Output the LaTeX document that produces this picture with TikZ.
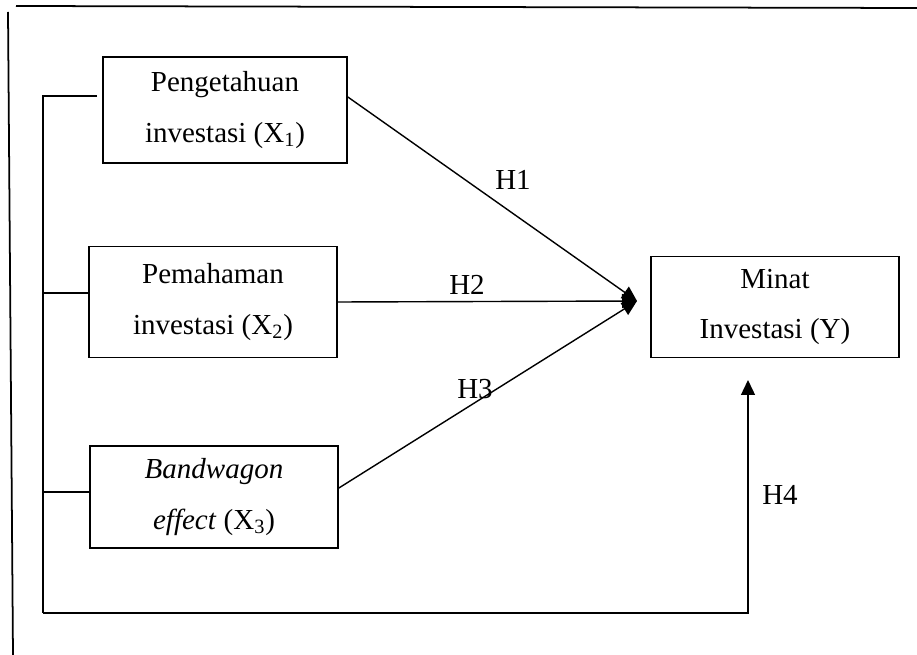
\documentclass[tikz,border=0pt]{standalone}
\usepackage{fontspec}
\setmainfont{Liberation Serif}
\usepackage{tikz}
\usetikzlibrary{arrows.meta}

\begin{document}
\begin{tikzpicture}[x=0.02cm, y=-0.02cm,
                    font=\fontsize{16.5}{28.5}\selectfont,
                    box/.style={draw, line width=1pt, align=center, inner sep=0},
                    link/.style={line width=0.8pt},
                    arr/.style={link, -{Triangle[length=0.3cm, width=0.28cm]}}]
    \useasboundingbox (0,0) rectangle (917,655);
    % frame lines
    \draw [line width=1pt] (16,6) -- (917,8);
    \draw [line width=1pt] (8,12) -- (13,655);

    \node (x1) [box, minimum width=4.88cm, minimum height=2.12cm] at (225,110) {Pengetahuan\\investasi (X\textsubscript{1})};
    \node (x2) [box, minimum width=4.96cm, minimum height=2.22cm] at (213,302) {Pemahaman\\investasi (X\textsubscript{2})};
    \node (x3) [box, minimum width=4.96cm, minimum height=2.04cm] at (214,497) {\textit{Bandwagon}\\\textit{effect} (X\textsubscript{3})};
    \node (y)  [box, minimum width=4.96cm, minimum height=2.02cm] at (775,307) {Minat\\Investasi (Y)};

    \coordinate (in) at (637,301);
    \coordinate (t1) at (97,96);
    \coordinate (bl) at (43,613);
    \coordinate (h4) at (748,380);

    % hypotheses
    \draw [arr] ([yshift=0.26cm]x1.east) -- (in);
    \draw [arr] (x2.east) -- (in);
    \draw [arr] ([yshift=0.18cm]x3.east) -- (in);
    \node (l1) at (513,180) {H1};
    \node (l2) at (467,285) {H2};
    \node (l3) at (475,389) {H3};

    % joint effect
    \draw [link] (t1) -- (t1 -| bl) -- (bl);
    \draw [link] (bl |- 0,293) -- (x2.west |- 0,293);
    \draw [link] (bl |- 0,492) -- (x3.west |- 0,492);
    \draw [arr] (bl) -| (h4);
    \node (l4) at (780,495) {H4};
\end{tikzpicture}
\end{document}
